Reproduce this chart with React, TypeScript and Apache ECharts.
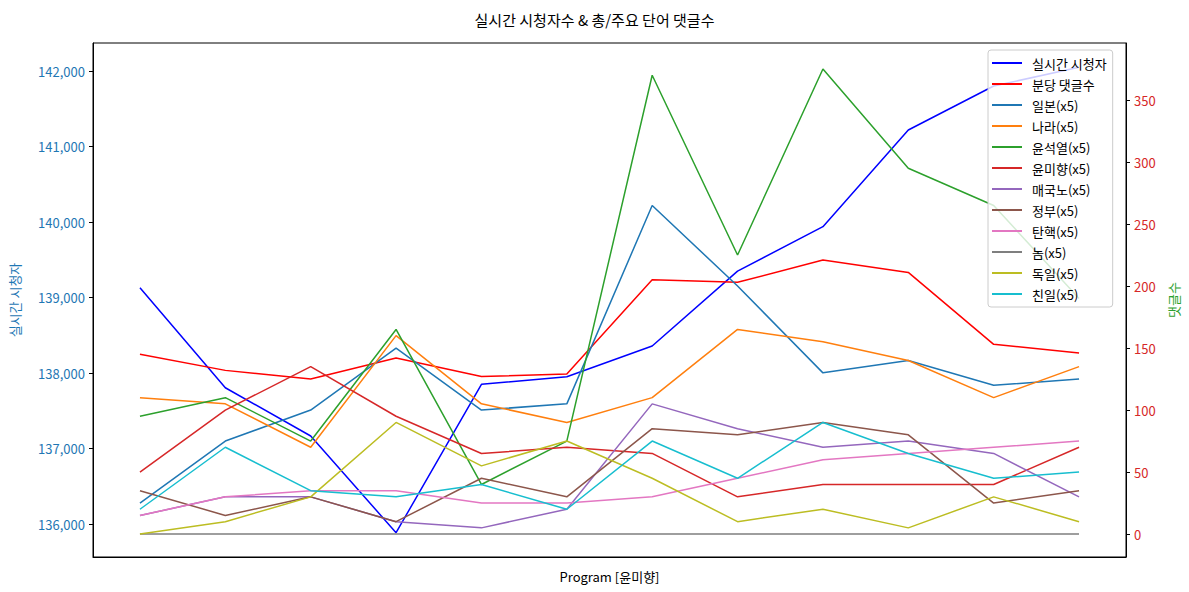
import React, { useEffect, useRef } from "react";
import * as echarts from "echarts";

const programs = ["0", "1", "2", "3", "4", "5", "6", "7", "8", "9", "10", "11"];
const viewers = [139130, 137805, 137166, 135885, 137850, 137950, 138358, 139350, 139938, 141219, 141801, 142050];
const perMinute = [145, 132, 125, 142, 127, 129, 205, 203, 221, 211, 153, 146];
const japan = [25, 75, 100, 150, 100, 105, 265, 200, 130, 140, 120, 125];
const nara = [110, 105, 70, 160, 105, 90, 110, 165, 155, 140, 110, 135];
const yoonSY = [95, 110, 75, 165, 40, 75, 370, 225, 375, 295, 265, 190];
const yoonMH = [50, 100, 135, 95, 65, 70, 65, 30, 40, 40, 40, 70];
const traitor = [15, 30, 30, 10, 5, 20, 105, 85, 70, 75, 65, 30];
const govt = [35, 15, 30, 10, 45, 30, 85, 80, 90, 80, 25, 35];
const impeach = [15, 30, 35, 35, 25, 25, 30, 45, 60, 65, 70, 75];
const guy = [0, 0, 0, 0, 0, 0, 0, 0, 0, 0, 0, 0];
const germany = [0, 10, 30, 90, 55, 75, 45, 10, 20, 5, 30, 10];
const proJapan = [20, 70, 35, 30, 40, 20, 75, 45, 90, 65, 45, 50];

const leftTicks = [136000, 137000, 138000, 139000, 140000, 141000, 142000];
const rightTicks = [0, 50, 100, 150, 200, 250, 300, 350];

const FONT = "'Noto Sans CJK KR', 'Noto Sans', sans-serif";

export default function App() {
  const ref = useRef<HTMLDivElement>(null);
  useEffect(() => {
    document.body.style.margin = "0";
    const chart = echarts.init(ref.current!, null, { renderer: "svg" });
    const toPairs = (arr: number[]) => arr.map((v, i) => [i, v]);
    const right = [
      { name: "분당 댓글수", data: perMinute, color: "#ff0000" },
      { name: "일본(x5)", data: japan, color: "#1f77b4" },
      { name: "나라(x5)", data: nara, color: "#ff7f0e" },
      { name: "윤석열(x5)", data: yoonSY, color: "#2ca02c" },
      { name: "윤미향(x5)", data: yoonMH, color: "#d62728" },
      { name: "매국노(x5)", data: traitor, color: "#9467bd" },
      { name: "정부(x5)", data: govt, color: "#8c564b" },
      { name: "탄핵(x5)", data: impeach, color: "#e377c2" },
      { name: "놈(x5)", data: guy, color: "#7f7f7f" },
      { name: "독일(x5)", data: germany, color: "#bcbd22" },
      { name: "친일(x5)", data: proJapan, color: "#17becf" },
    ];
    const series: any[] = [
      {
        name: "실시간 시청자",
        type: "line",
        yAxisIndex: 0,
        data: toPairs(viewers),
        symbol: "none",
        lineStyle: { width: 1.5, color: "#0000ff" },
        itemStyle: { color: "#0000ff" },
        z: 1,
      },
      ...right.map((s, k) => ({
        name: s.name,
        type: "line",
        yAxisIndex: 1,
        data: toPairs(s.data),
        symbol: "none",
        lineStyle: { width: 1.5, color: s.color },
        itemStyle: { color: s.color },
        z: 2 + k,
      })),
    ];
    chart.setOption({
      animation: false,
      textStyle: { fontFamily: FONT },
      title: {
        text: "실시간 시청자수 & 총/주요 단어 댓글수",
        left: "center",
        top: 7,
        textStyle: { fontSize: 15, fontWeight: "normal", color: "#000", fontFamily: FONT },
      },
      grid: {
        left: 93,
        right: 63,
        top: 43,
        bottom: 35,
        show: true,
        borderColor: "#000",
        borderWidth: 1,
        outerBoundsMode: "none",
      },
      legend: {
        orient: "vertical",
        left: 988,
        top: 50,
        padding: [6, 6, 6, 4],
        itemGap: 7,
        itemWidth: 30,
        itemHeight: 2,
        icon: "rect",
        backgroundColor: "rgba(255,255,255,0.8)",
        borderColor: "#cccccc",
        borderWidth: 1,
        borderRadius: 3,
        textStyle: { fontSize: 13, lineHeight: 14, color: "#000", fontFamily: FONT, padding: [0, 0, 0, 5] },
        data: series.map((s) => s.name),
        z: 20,
      },
      xAxis: {
        type: "value",
        min: -0.55,
        max: programs.length - 1 + 0.55,
        name: "Program [윤미향]",
        nameLocation: "middle",
        nameGap: 13,
        nameTextStyle: { fontSize: 13, color: "#000", fontFamily: FONT },
        axisLine: { show: true, onZero: false, lineStyle: { color: "#000" } },
        axisTick: { show: false },
        axisLabel: { show: false },
        splitLine: { show: false },
      },
      yAxis: [
        {
          type: "value",
          position: "left",
          min: 135563,
          max: 142371,
          name: "실시간 시청자",
          nameLocation: "middle",
          nameRotate: 90,
          nameGap: 72,
          nameTextStyle: { fontSize: 13, color: "#1f77b4", fontFamily: FONT },
          axisLine: { show: true, onZero: false, lineStyle: { color: "#000" } },
          axisTick: { show: true, length: 4, lineStyle: { color: "#000" }, customValues: leftTicks },
          axisLabel: {
            color: "#1f77b4",
            fontSize: 13,
            margin: 8,
            customValues: leftTicks,
            formatter: (v: number) => v.toLocaleString("en-US"),
          },
          splitLine: { show: false },
        },
        {
          type: "value",
          position: "right",
          min: -18.5,
          max: 396,
          name: "댓글수",
          nameLocation: "middle",
          nameRotate: 90,
          nameGap: 37,
          nameTextStyle: { fontSize: 13, color: "#2ca02c", fontFamily: FONT },
          axisLine: { show: true, onZero: false, lineStyle: { color: "#000" } },
          axisTick: { show: true, length: 4, lineStyle: { color: "#000" }, customValues: rightTicks },
          axisLabel: { color: "#d62728", fontSize: 13, margin: 8, customValues: rightTicks },
          splitLine: { show: false },
        },
      ],
      series,
    });
    return () => chart.dispose();
  }, []);
  return <div ref={ref} style={{ width: 1189, height: 592 }} />;
}
